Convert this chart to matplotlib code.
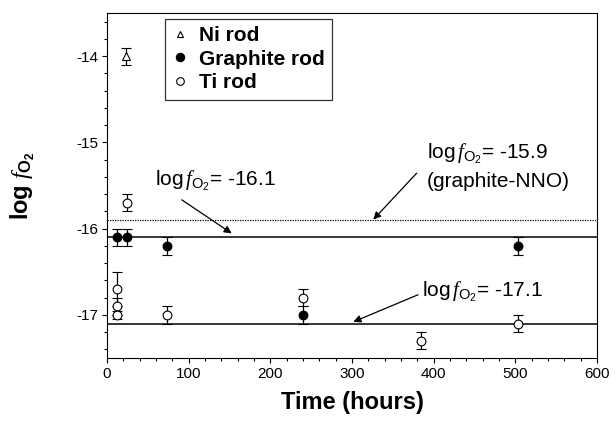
import matplotlib
matplotlib.use("Agg")
import matplotlib.pyplot as plt
from matplotlib.lines import Line2D
from matplotlib.ticker import MultipleLocator, FormatStrFormatter

plt.rcParams['font.family'] = ['Liberation Sans', 'DejaVu Sans']
plt.rcParams['axes.unicode_minus'] = False
plt.rcParams['mathtext.fontset'] = 'custom'
plt.rcParams['mathtext.rm'] = 'Liberation Sans'
plt.rcParams['mathtext.bf'] = 'Liberation Sans:bold'
plt.rcParams['mathtext.it'] = 'Liberation Serif:italic'

# ---- data ----
ni_time = [23]
ni_logfo2 = [-14.0]
ni_err = [0.1]

graphite_time = [12, 25, 73, 240, 503]
graphite_logfo2 = [-16.1, -16.1, -16.2, -17.0, -16.2]
graphite_err = [0.1, 0.1, 0.1, 0.1, 0.1]

ti_time = [12, 12, 12, 24, 73, 240, 385, 503]
ti_logfo2 = [-16.7, -16.9, -17.0, -15.7, -17.0, -16.8, -17.3, -17.1]
ti_err = [0.2, 0.1, 0.05, 0.1, 0.1, 0.1, 0.1, 0.1]

ref_levels = [-15.9, -16.1, -17.1]
ref_styles = [(0, (1, 1)), '-', '-']

legend_labels = ['Ni rod', 'Graphite rod', 'Ti rod']

# ---- figure ----
fig = plt.figure(figsize=(6.16, 4.21), dpi=100)
ax = fig.add_axes([107/616, 1-358/421, 490/616, 345/421])

for lvl, ls in zip(ref_levels, ref_styles):
    ax.axhline(lvl, color='black', lw=1.1 if ls == '-' else 0.9, ls=ls, zorder=1)

eb_kw = dict(ecolor='black', elinewidth=0.9, capsize=3.5, capthick=0.9, ls='none', zorder=3)
ax.errorbar(ni_time, ni_logfo2, yerr=ni_err, marker='^', ms=6, mfc='white', mec='black',
            mew=0.8, **eb_kw)
ax.errorbar(ti_time, ti_logfo2, yerr=ti_err, marker='o', ms=6.3, mfc='white', mec='black',
            mew=0.8, **eb_kw)
ax.errorbar(graphite_time, graphite_logfo2, yerr=graphite_err, marker='o', ms=6.3, mfc='black',
            mec='black', mew=0.8, **eb_kw)

ax.set_xlim(0, 600)
ax.set_ylim(-17.5, -13.5)
ax.xaxis.set_major_locator(MultipleLocator(100))
ax.xaxis.set_minor_locator(MultipleLocator(20))
ax.yaxis.set_major_locator(MultipleLocator(1))
ax.yaxis.set_minor_locator(MultipleLocator(0.2))
ax.yaxis.set_major_formatter(FormatStrFormatter('%d'))
ax.tick_params(which='major', direction='out', length=3.5, width=0.8, labelsize=11, pad=3)
ax.tick_params(which='minor', direction='out', length=2, width=0.8)
for s in ax.spines.values():
    s.set_linewidth(0.8)

ax.set_xlabel('Time (hours)', fontsize=17, fontweight='bold')
ax.xaxis.set_label_coords(0.5, -0.097)
ax.set_ylabel(r'$\mathbf{log}\ \mathit{f}_{\mathbf{O_2}}$', fontsize=17)
ax.yaxis.set_label_coords(-0.142, 0.5)

arrow = dict(arrowstyle='-|>', color='black', lw=0.9, mutation_scale=11, shrinkA=0, shrinkB=0)
fs = 15
ax.annotate('', xy=(152.7, -16.055), xytext=(91.5, -15.666), arrowprops=arrow)
ax.text(132.6, -15.45, r'log$\,\mathit{f}_{\mathrm{O_2}}$= -16.1', fontsize=fs, ha='center', va='center')

ax.annotate('', xy=(326.1, -15.895), xytext=(379.2, -15.357), arrowprops=arrow)
ax.text(391.8, -15.128, r'log$\,\mathit{f}_{\mathrm{O_2}}$= -15.9', fontsize=fs, ha='left', va='center')
ax.text(391.8, -15.453, '(graphite-NNO)', fontsize=fs, ha='left', va='center')

ax.annotate('', xy=(301.6, -17.081), xytext=(380.8, -16.767), arrowprops=arrow)
ax.text(385.7, -16.733, r'log$\,\mathit{f}_{\mathrm{O_2}}$= -17.1', fontsize=fs, ha='left', va='center')

handles = [
    Line2D([], [], ls='none', marker='^', ms=5, mfc='white', mec='black', mew=0.8),
    Line2D([], [], ls='none', marker='o', ms=6, mfc='black', mec='black', mew=0.8),
    Line2D([], [], ls='none', marker='o', ms=5.5, mfc='white', mec='black', mew=0.8),
]
leg = ax.legend(handles, legend_labels, loc='upper left', bbox_to_anchor=(0.118, 0.983),
                borderaxespad=0, frameon=True, fancybox=False, edgecolor='black',
                prop={'weight': 'bold', 'size': 15}, handlelength=0.8, handletextpad=0.5,
                labelspacing=0.22, borderpad=0.35)
leg.get_frame().set_linewidth(0.9)

fig.savefig('out.png', dpi=100)
